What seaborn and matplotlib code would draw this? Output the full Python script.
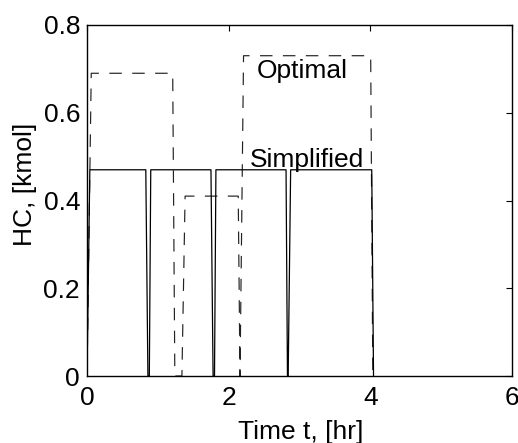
import matplotlib
matplotlib.use("Agg")
import matplotlib.pyplot as plt
import seaborn as sns
import pandas as pd

# Simplified schedule (solid) and optimal schedule (dashed): HC feed in kmol vs time in hr
simplified_t = [0.00, 0.04, 0.83, 0.86, 0.88, 0.90, 1.75, 1.78, 1.80, 1.82,
                2.81, 2.83, 2.84, 2.875, 4.02, 4.045]
simplified_hc = [0.00, 0.47, 0.47, 0.00, 0.00, 0.47, 0.47, 0.00, 0.00, 0.47,
                 0.47, 0.00, 0.00, 0.47, 0.47, 0.00]

optimal_t = [0.00, 0.06, 1.21, 1.24, 1.34, 1.385, 2.135, 2.16, 2.21, 4.005, 4.035]
optimal_hc = [0.00, 0.69, 0.69, 0.00, 0.00, 0.41, 0.41, 0.00, 0.73, 0.73, 0.00]

x_ticks = [0, 2, 4, 6]
y_ticks = [0, 0.2, 0.4, 0.6, 0.8]
y_tick_labels = ["0", "0.2", "0.4", "0.6", "0.8"]

sns.set_style("white")
plt.rcParams["font.family"] = ["Liberation Sans", "DejaVu Sans"]
plt.rcParams["lines.scale_dashes"] = False

fig = plt.figure(figsize=(5.18, 4.43), dpi=100)
ax = fig.add_axes([87 / 518, 1 - 376 / 443, 425 / 518, 351 / 443])

simp = pd.DataFrame({"t": simplified_t, "hc": simplified_hc})
opt = pd.DataFrame({"t": optimal_t, "hc": optimal_hc})

sns.lineplot(data=opt, x="t", y="hc", sort=False, estimator=None, ax=ax,
             color="#222222", linewidth=0.85, linestyle=(0, (9.0, 7.5)))
sns.lineplot(data=simp, x="t", y="hc", sort=False, estimator=None, ax=ax,
             color="black", linewidth=0.9)

ax.set_xlim(0, 6)
ax.set_ylim(0, 0.8)
ax.set_xticks(x_ticks)
ax.set_xticklabels([str(v) for v in x_ticks])
ax.set_yticks(y_ticks)
ax.set_yticklabels(y_tick_labels)

for side in ["left", "right", "top", "bottom"]:
    ax.spines[side].set_visible(True)
    ax.spines[side].set_color("black")
    ax.spines[side].set_linewidth(1.0)

ax.tick_params(direction="in", length=4, width=0.8, colors="black",
               labelsize=19, top=True, right=True)
ax.tick_params(axis="x", pad=7)
ax.tick_params(axis="y", pad=5)

ax.set_xlabel("Time t, [hr]", fontsize=19, color="black")
ax.set_ylabel("HC, [kmol]", fontsize=19, color="black")
ax.xaxis.set_label_coords(0.503, -0.125)
ax.yaxis.set_label_coords(-0.117, 0.545)

ax.text(2.40, 0.68, "Optimal", fontsize=19, ha="left", va="baseline", color="black")
ax.text(2.30, 0.477, "Simplified", fontsize=19, ha="left", va="baseline", color="black")

fig.savefig("out.png", dpi=100)
